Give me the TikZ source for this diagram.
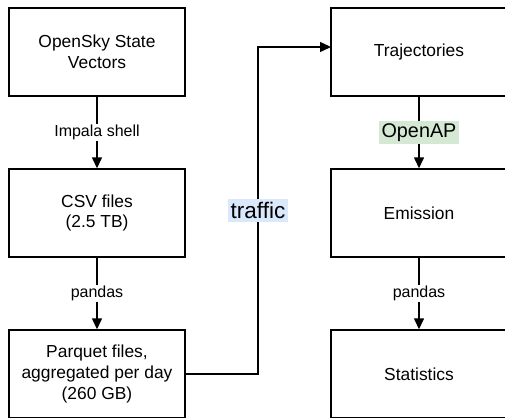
\documentclass[tikz,border=0pt]{standalone}
\usepackage{fontspec}
\setmainfont{Liberation Sans}
\usetikzlibrary{arrows.meta}
\tikzset{box/.append style={draw, rectangle, line width=1.4pt, minimum width=176pt, minimum height=88pt, align=center, inner sep=2pt, font=\fontsize{17.4}{20.8}\selectfont},
  flow/.style={line width=1.4pt, -{Stealth[length=11pt,width=10pt,inset=0pt]}},
  lab/.style={fill=white, inner sep=1pt, font=\fontsize{16}{19}\selectfont}}

\begin{document}
\begin{tikzpicture}[x=1pt,y=-1pt]
                \useasboundingbox (0,0) rectangle (505,417);
                % left column
                \node[box] (osv) at (97,52) {OpenSky State\\Vectors};
                \node[box] (csv) at (97,213) {CSV files\\(2.5 TB)};
                \node[box] (parquet) at (97,374) {Parquet files,\\aggregated per day\\(260 GB)};
                % right column
                \node[box] (traj) at (419,52) {Trajectories};
                \node[box] (emis) at (419,213) {Emission};
                \node[box] (stats) at (419,374) {Statistics};
                \coordinate (bendlo) at (258,374);
                \coordinate (bendhi) at (258,47);
                \coordinate (trajin) at (331,47);
                \path (osv) edge[flow] node[lab]{Impala shell} (csv);
                \path (csv) edge[flow] node[lab]{pandas} (parquet);
                \path (traj) edge[flow] node[lab, fill={rgb,255:red,213;green,232;blue,212}, inner sep=3pt, font=\fontsize{19.8}{22}\selectfont]{OpenAP} (emis);
                \path (emis) edge[flow] node[lab]{pandas} (stats);
                \draw[flow] (parquet.east) -- (bendlo) -- node[fill={rgb,255:red,218;green,232;blue,252}, inner sep=3pt, font=\fontsize{22.5}{25}\selectfont]{traffic} (bendhi) -- (trajin);
            \end{tikzpicture}
\end{document}
